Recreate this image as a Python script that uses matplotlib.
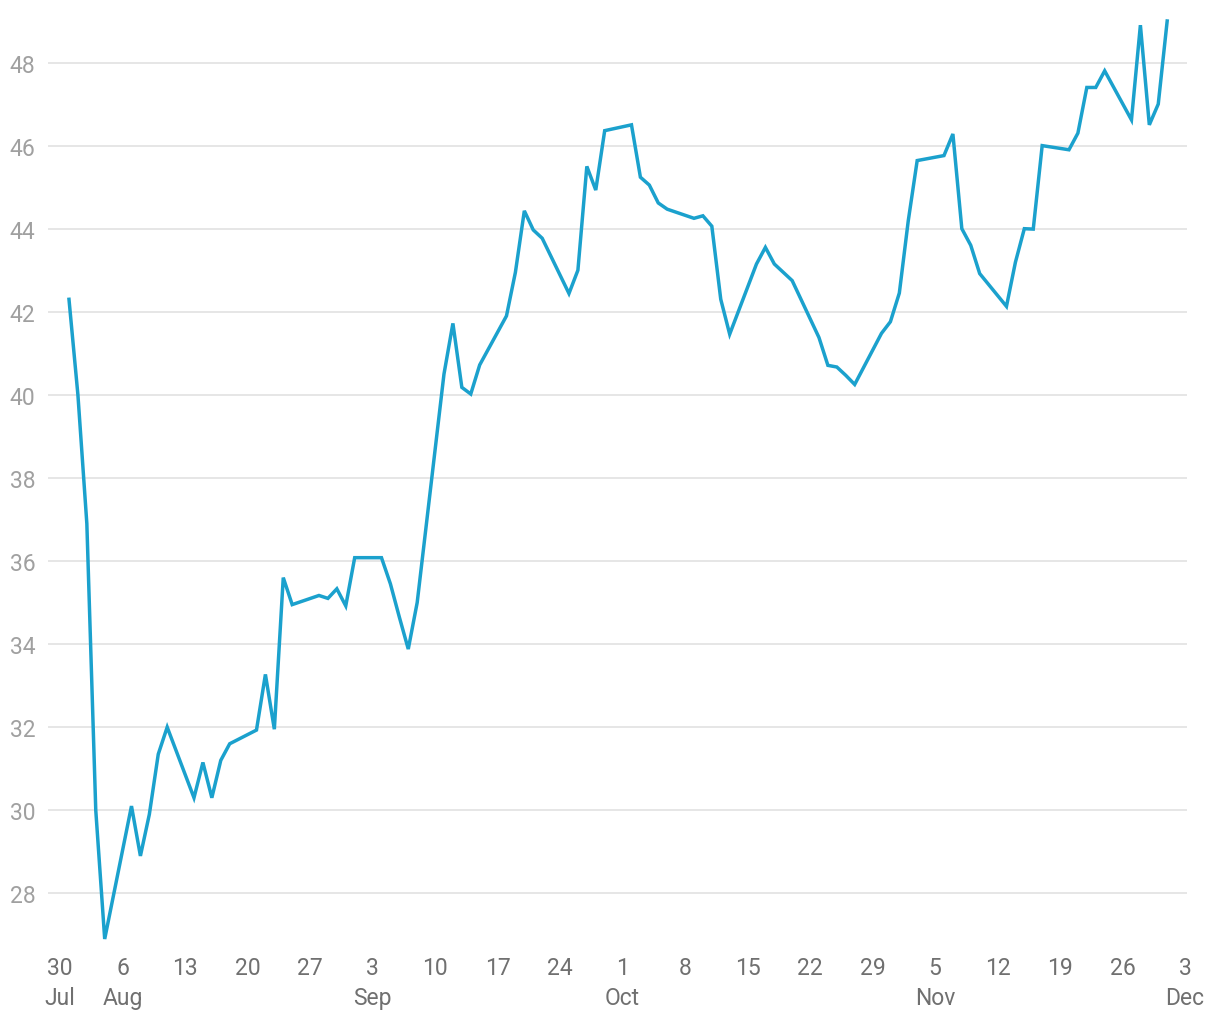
import pandas as pd
import matplotlib
matplotlib.use('Agg')
import matplotlib.pyplot as plt
import matplotlib.dates as mdates

# Config
plt.rcParams['font.family'] = ['Roboto', 'DejaVu Sans']

# Data - one value per weekday, Jul 31 to Dec 1 (2017)
dates = pd.bdate_range('2017-07-31', '2017-12-01')
values = [
    42.3, 40.0, 36.9, 30.0, 26.9,
    30.1, 28.9, 29.9, 31.35, 32.0,
    30.3, 31.15, 30.3, 31.2, 31.6,
    31.93, 33.27, 31.95, 35.6, 34.95,
    35.17, 35.1, 35.33, 34.92, 36.08,
    36.08, 35.45, 34.65, 33.88, 35.0,
    40.5, 41.72, 40.18, 40.02, 40.72,
    41.9, 42.95, 44.43, 43.97, 43.77,
    42.44, 43.0, 45.5, 44.93, 46.36,
    46.5, 45.24, 45.05, 44.62, 44.47,
    44.25, 44.31, 44.06, 42.3, 41.46,
    43.15, 43.55, 43.15, 42.95, 42.75,
    41.38, 40.71, 40.67, 40.47, 40.25,
    41.48, 41.76, 42.45, 44.19, 45.64,
    45.76, 46.28, 44.0, 43.6, 42.92,
    42.13, 43.19, 44.0, 43.99, 46.0,
    45.9, 46.3, 47.4, 47.4, 47.8,
    46.62, 48.9, 46.5, 47.0, 49.0,
]
tick_dates = pd.date_range('2017-07-30', '2017-12-03', freq='7D')
y_ticks = [28, 30, 32, 34, 36, 38, 40, 42, 44, 46, 48]

LINE_COLOR = '#1ba1cd'

fig = plt.figure(figsize=(12.2, 10.2), dpi=100)
ax = fig.add_axes([48 / 1220, 1 - 940 / 1020, (1187 - 48) / 1220, (940 - 22) / 1020])

ax.plot(dates, values, color=LINE_COLOR, linewidth=2.5, solid_joinstyle='miter', clip_on=False)

# axes ranges
x0 = mdates.date2num(pd.Timestamp('2017-07-30')) - 1.35
x1 = mdates.date2num(pd.Timestamp('2017-12-03')) + 0.22
ax.set_xlim(x0, x1)
ax.set_ylim(26.9, 49.0)

# ticks: day number, with month name under the first tick of each month
labels = []
prev_month = None
for d in tick_dates:
    if d.month != prev_month:
        labels.append(f"{d.day}\n{d.strftime('%b')}")
    else:
        labels.append(f"{d.day}\n ")
    prev_month = d.month
ax.set_xticks(tick_dates)
ax.set_xticklabels(labels, fontsize=16.5, color='#707070', linespacing=1.43, va='top')
ax.set_yticks(y_ticks)
ax.set_yticklabels([str(v) for v in y_ticks], fontsize=16.5, color='#a0a0a0')
ax.tick_params(axis='both', length=0)
ax.tick_params(axis='x', pad=12)
ax.tick_params(axis='y', pad=9)

ax.grid(axis='y', color='#e6e6e6', linewidth=1.4)
ax.grid(axis='x', visible=False)
ax.set_axisbelow(True)
for s in ax.spines.values():
    s.set_visible(False)

plt.savefig('out.png', dpi=100)
plt.close()
